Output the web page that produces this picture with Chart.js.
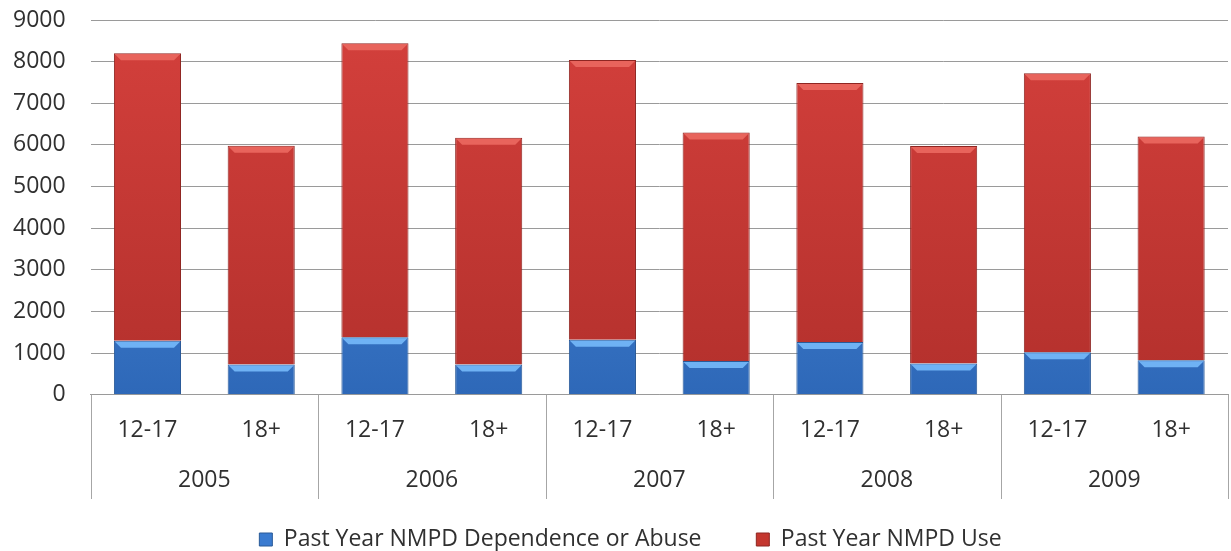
<!DOCTYPE html>
<html lang="en">
<head>
    <meta charset="UTF-8">
    <title>NMPD</title>
    <style>
        html, body { margin: 0; padding: 0; background: #ffffff; }
        #wrap { width: 1231px; height: 551px; }
    </style>
</head>
<body>
    <div id="wrap">
        <canvas id="myChart" width="1231" height="551"></canvas>
    </div>
    <script src="https://cdn.jsdelivr.net/npm/chart.js@4.4.1/dist/chart.umd.min.js"></script>
    <script>
        // data
        const years = ['2005', '2006', '2007', '2008', '2009'];
        const ageGroups = ['12-17', '18+'];
        const yTicks = [0, 9000, 1000]; // min, max, step
        const dependence = [1300, 730, 1380, 730, 1320, 810, 1270, 750, 1020, 830];
        const nmpdUse = [6900, 5250, 7060, 5440, 6720, 5490, 6220, 5225, 6700, 5370];

        const labels1 = [];
        years.forEach(function () {
            ageGroups.forEach(function (g) { labels1.push(g); });
        });

        const fontMain = { family: 'Open Sans', size: 23 };
        const textColor = '#303030';

        // lighter strip on top of each bar, like the bevel in the original
        const bevel = {
            id: 'bevel',
            afterDatasetsDraw(chart) {
                const ctx = chart.ctx;
                chart.data.datasets.forEach(function (ds, di) {
                    const meta = chart.getDatasetMeta(di);
                    meta.data.forEach(function (bar) {
                        const p = bar.getProps(['x', 'y', 'base', 'width'], true);
                        const l = p.x - p.width / 2, r = p.x + p.width / 2;
                        const t = Math.min(p.y, p.base);
                        ctx.save();
                        ctx.fillStyle = ds.topColor;
                        ctx.beginPath();
                        ctx.moveTo(l + 1, t + 1);
                        ctx.lineTo(r - 1, t + 1);
                        ctx.lineTo(r - 7, t + 7);
                        ctx.lineTo(l + 7, t + 7);
                        ctx.closePath();
                        ctx.fill();
                        ctx.restore();
                    });
                });
            }
        };

        // vertical separators of the two-level category axis
        const groupLines = {
            id: 'groupLines',
            afterDraw(chart) {
                const x2 = chart.scales.x2;
                const ctx = chart.ctx;
                const step = x2.getPixelForTick(1) - x2.getPixelForTick(0);
                ctx.save();
                ctx.strokeStyle = '#a6a6a6';
                ctx.lineWidth = 1;
                for (let i = 0; i <= years.length; i++) {
                    const px = Math.round(x2.getPixelForTick(0) - step / 2 + i * step) + 0.5;
                    ctx.beginPath();
                    ctx.moveTo(px, chart.chartArea.bottom);
                    ctx.lineTo(px, x2.bottom - 12);
                    ctx.stroke();
                }
                ctx.restore();
            }
        };

        // nudge the legend a little lower and to the right, as in the original
        const legendNudge = {
            id: 'legendNudge',
            afterLayout(chart) {
                const lg = chart.legend;
                lg.top += 10; lg.bottom += 10;
                lg.left += 10; lg.right += 10;
            }
        };

        function vGrad(ctx, top, bottom) {
            const chart = ctx.chart;
            const area = chart.chartArea;
            if (!area) return bottom;
            const g = chart.ctx.createLinearGradient(0, area.top, 0, area.bottom);
            g.addColorStop(0, top);
            g.addColorStop(1, bottom);
            return g;
        }

        const ctx1 = document.getElementById('myChart').getContext('2d');
        const myChart = new Chart(ctx1, {
            type: 'bar',
            data: {
                labels: labels1,
                datasets: [{
                    label: 'Past Year NMPD Dependence or Abuse',
                    data: dependence,
                    backgroundColor: function (c) { return vGrad(c, '#4f93e3', '#2e68b8'); },
                    borderColor: '#2a5a98',
                    borderWidth: 1,
                    topColor: '#6fb2f4',
                    barPercentage: 0.59,
                    categoryPercentage: 1.0,
                    xAxisID: 'x'
                }, {
                    label: 'Past Year NMPD Use',
                    data: nmpdUse,
                    backgroundColor: function (c) { return vGrad(c, '#d4403c', '#b3302c'); },
                    borderColor: '#8f2622',
                    borderWidth: 1,
                    topColor: '#e8645c',
                    barPercentage: 0.59,
                    categoryPercentage: 1.0,
                    xAxisID: 'x'
                }]
            },
            options: {
                responsive: false,
                animation: false,
                layout: { padding: { top: 20, right: 3, left: 13, bottom: 0 } },
                plugins: {
                    legend: {
                        position: 'bottom',
                        labels: {
                            font: fontMain,
                            color: textColor,
                            boxWidth: 13,
                            boxHeight: 13,
                            padding: 7,
                            generateLabels: function (chart) {
                                return chart.data.datasets.map(function (ds, i) {
                                    return {
                                        // trailing spaces widen the gap between the two entries
                                        text: i === 0 ? ds.label + '        ' : ds.label,
                                        fillStyle: i === 0 ? '#3a7bd0' : '#c4372f',
                                        strokeStyle: ds.borderColor,
                                        lineWidth: 1,
                                        fontColor: textColor,
                                        datasetIndex: i
                                    };
                                });
                            }
                        }
                    },
                    tooltip: { enabled: false }
                },
                scales: {
                    x: {
                        stacked: true,
                        grid: { display: false, drawTicks: false },
                        border: { display: true, color: '#9a9a9a' },
                        ticks: { font: fontMain, color: textColor, padding: 22, maxRotation: 0 }
                    },
                    x2: {
                        type: 'category',
                        labels: years,
                        position: 'bottom',
                        offset: true,
                        grid: { display: false, drawTicks: false },
                        border: { display: false },
                        ticks: { font: fontMain, color: textColor, padding: 0, maxRotation: 0 },
                        afterFit: function (scale) { scale.height += 17; }
                    },
                    y: {
                        stacked: true,
                        min: yTicks[0],
                        max: yTicks[1],
                        grid: { color: '#9a9a9a', lineWidth: 1, drawTicks: true, tickLength: 25, tickColor: 'rgba(0,0,0,0)' },
                        border: { display: false },
                        ticks: {
                            stepSize: yTicks[2],
                            font: { family: 'Open Sans', size: 23, lineHeight: 0.1 },
                            color: textColor,
                            padding: 0,
                            callback: function (v) { return String(v); }
                        }
                    }
                }
            },
            plugins: [bevel, groupLines, legendNudge]
        });
    </script>
</body>
</html>
